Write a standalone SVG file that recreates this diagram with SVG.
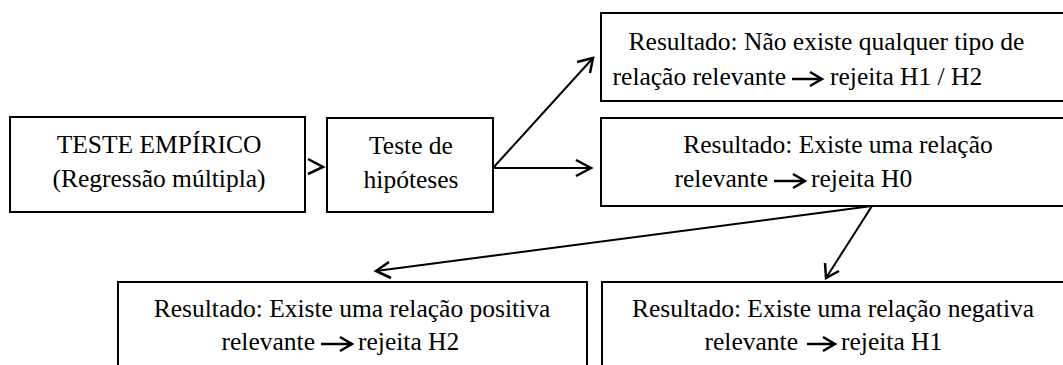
<svg xmlns="http://www.w3.org/2000/svg" width="1063" height="365" viewBox="0 0 1063 365">
<style>
.box{fill:#fff;stroke:#000;stroke-width:2}
.t{font-family:"Liberation Serif","Times New Roman",serif;font-size:25.5px;fill:#000}
.c{text-anchor:middle}
.e{text-anchor:end}
.conn{fill:none;stroke:#000;stroke-width:2}
.head{fill:none;stroke:#000;stroke-width:2.5}
</style>
<rect width="1063" height="365" fill="#fff"/>
<g id="teste-empirico">
<rect class="box" x="10" y="117" width="295" height="95"/>
<text class="t c" x="159" y="153">TESTE EMPÍRICO</text>
<text class="t c" x="159" y="187">(Regressão múltipla)</text>
</g>
<g id="teste-hipoteses">
<rect class="box" x="327" y="118" width="166" height="94"/>
<text class="t c" x="411" y="154">Teste de</text>
<text class="t c" x="411" y="188">hipóteses</text>
</g>
<g id="resultado-nao-existe">
<rect class="box" x="601" y="13" width="470" height="88"/>
<text class="t c" x="826.5" y="50">Resultado: Não existe qualquer tipo de</text>
<text class="t e" x="786" y="85">relação relevante</text>
<path class="head" d="M792 79 H822 M810 72 L822 79 L810 86"/>
<text class="t" x="830" y="85">rejeita H1 / H2</text>
</g>
<g id="resultado-existe">
<rect class="box" x="601" y="118" width="470" height="88"/>
<text class="t c" x="838" y="153">Resultado: Existe uma relação</text>
<text class="t e" x="768" y="187">relevante</text>
<path class="head" d="M774 181 H805 M793 174 L805 181 L793 188"/>
<text class="t" x="811" y="187">rejeita H0</text>
</g>
<g id="resultado-positiva">
<rect class="box" x="118" y="282" width="469" height="100"/>
<text class="t c" x="352" y="317">Resultado: Existe uma relação positiva</text>
<text class="t e" x="315" y="350">relevante</text>
<path class="head" d="M321 344 H352 M340 337 L352 344 L340 351"/>
<text class="t" x="358" y="350">rejeita H2</text>
</g>
<g id="resultado-negativa">
<rect class="box" x="602" y="282" width="470" height="100"/>
<text class="t c" x="833" y="317">Resultado: Existe uma relação negativa</text>
<text class="t e" x="798" y="350">relevante</text>
<path class="head" d="M807 344 H835 M823 337 L835 344 L823 351"/>
<text class="t" x="841" y="350">rejeita H1</text>
</g>
<g id="connectors">
<path class="head" d="M308 159 L323 167 L308 174"/>
<path class="conn" d="M493 168 L593 58"/>
<path class="head" d="M577 62 L593 58 L590 73"/>
<path class="conn" d="M493 168 H591"/>
<path class="head" d="M576 160 L591 168 L576 176"/>
<path class="conn" d="M872 206 L376 271"/>
<path class="head" d="M389 262 L376 271 L391 278"/>
<path class="conn" d="M872 206 L826 278"/>
<path class="head" d="M825 263 L826 278 L839 271"/>
</g>
</svg>
